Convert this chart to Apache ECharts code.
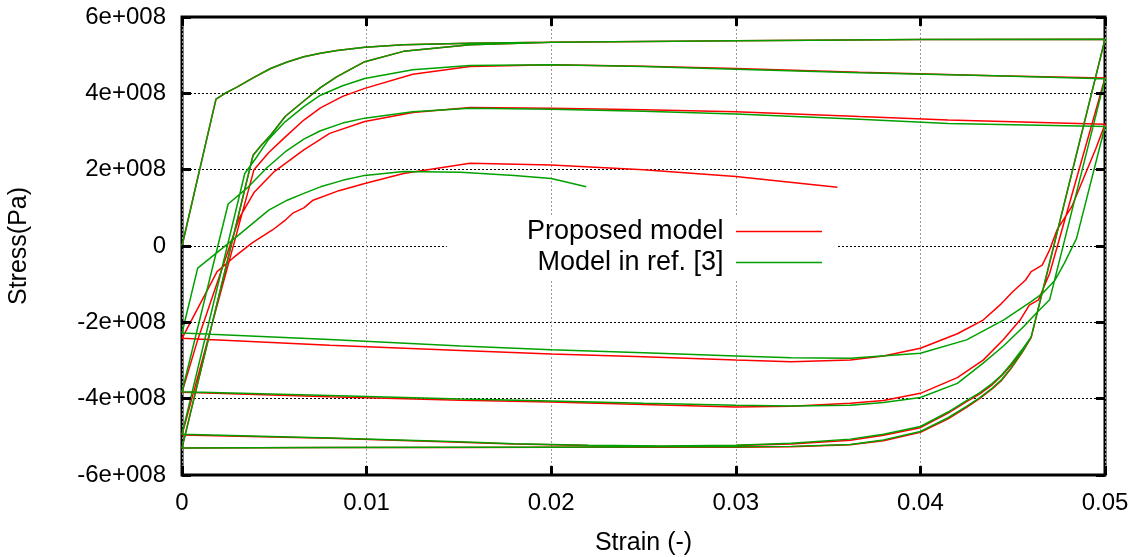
<!DOCTYPE html>
<html>
<head>
<meta charset="utf-8">
<script src="https://cdn.jsdelivr.net/npm/echarts@6/dist/echarts.min.js"></script>
<style>html,body{margin:0;padding:0;background:#fff}#c{width:1140px;height:557px}</style>
</head>
<body>
<div id="c"></div>
<script>
// Strain (-) and stress (in units of 1e8 Pa).
const STRESS_UNIT = 1e8;
const xTicks = [0, 0.01, 0.02, 0.03, 0.04, 0.05];
const yTicks = [-6e8, -4e8, -2e8, 0, 2e8, 4e8, 6e8];
const seriesNames = ['Proposed model', 'Model in ref. [3]'];

// ---- Model in ref. [3] (green) ----
const gLoad1 = [[0,0],[0.00184,3.85],[0.0024,4.02],[0.003,4.17],[0.0039,4.42],[0.0048,4.65],[0.0057,4.82],[0.0066,4.96],[0.0075,5.05],[0.0084,5.12],[0.0099,5.21],[0.012,5.27],[0.0156,5.31],[0.02,5.34],[0.03,5.38],[0.04,5.41],[0.05,5.42]];
const gUnload1 = [[0.05,5.42],[0.046,-2.38],[0.0455,-2.78],[0.0449,-3.2],[0.0444,-3.5],[0.0439,-3.72],[0.0432,-3.98],[0.0425,-4.2],[0.0415,-4.5],[0.040,-4.86],[0.038,-5.08],[0.0362,-5.2],[0.033,-5.25],[0.03,-5.26],[0.026,-5.26],[0.02,-5.27],[0.015,-5.27],[0.008,-5.28],[0,-5.29]];
const gReload2 = [[0,-5.29],[0.00385,2.38],[0.0043,2.64],[0.0048,2.9],[0.0056,3.4],[0.0066,3.8],[0.0075,4.15],[0.0084,4.44],[0.0099,4.83],[0.012,5.10],[0.0156,5.27],[0.02,5.34],[0.03,5.38],[0.04,5.41],[0.05,5.42]];
const gUnload2 = [[0.05,5.42],[0.046,-2.38],[0.0455,-2.72],[0.0449,-3.1],[0.0444,-3.38],[0.0439,-3.6],[0.0432,-3.85],[0.0425,-4.05],[0.0415,-4.35],[0.040,-4.73],[0.038,-4.93],[0.0362,-5.06],[0.033,-5.17],[0.03,-5.22],[0.026,-5.24],[0.022,-5.22],[0.018,-5.18],[0.015,-5.13],[0.008,-5.03],[0,-4.93]];
const gReload3 = [[0,-4.93],[0.0034,1.9],[0.004,2.3],[0.0047,2.8],[0.0056,3.26],[0.0066,3.65],[0.0075,3.95],[0.0087,4.2],[0.0099,4.39],[0.0125,4.62],[0.0156,4.73],[0.02,4.75],[0.025,4.7],[0.03,4.63],[0.0367,4.54],[0.044,4.46],[0.05,4.38]];
const gUnload3 = [[0.05,4.38],[0.047,-1.41],[0.0463,-1.75],[0.0456,-2.11],[0.0445,-2.62],[0.0434,-3.07],[0.042,-3.6],[0.040,-3.97],[0.038,-4.1],[0.0362,-4.17],[0.033,-4.19],[0.03,-4.17],[0.025,-4.12],[0.02,-4.06],[0.0151,-4.01],[0.008,-3.92],[0,-3.82]];
const gReload4 = [[0,-3.82],[0.0025,1.1],[0.0036,1.55],[0.0046,2.05],[0.0056,2.47],[0.0066,2.8],[0.0075,3.02],[0.0087,3.22],[0.0099,3.35],[0.0125,3.52],[0.0156,3.61],[0.02,3.58],[0.025,3.53],[0.03,3.46],[0.0367,3.32],[0.0415,3.21],[0.05,3.13]];
const gUnload4 = [[0.05,3.13],[0.04846,0.2],[0.0478,-0.45],[0.0473,-0.89],[0.0466,-1.25],[0.046,-1.46],[0.0445,-1.94],[0.0425,-2.46],[0.040,-2.81],[0.0362,-2.94],[0.033,-2.93],[0.03,-2.88],[0.025,-2.8],[0.02,-2.72],[0.0151,-2.62],[0.008,-2.45],[0,-2.28]];
const gReload5 = [[0,-2.28],[0.00085,-0.58],[0.0028,0.18],[0.0047,0.94],[0.0057,1.2],[0.0066,1.38],[0.0075,1.55],[0.0087,1.72],[0.0099,1.85],[0.012,1.95],[0.0151,1.93],[0.018,1.85],[0.02,1.77],[0.0219,1.55]];

// ---- Proposed model (red) ----
const rLoad1 = [[0,0],[0.00184,3.85],[0.0024,4.02],[0.003,4.17],[0.0039,4.42],[0.0048,4.65],[0.0057,4.82],[0.0066,4.96],[0.0075,5.05],[0.0084,5.12],[0.0099,5.21],[0.012,5.27],[0.0156,5.31],[0.02,5.34],[0.03,5.38],[0.04,5.41],[0.05,5.42]];
const rUnload1 = [[0.05,5.42],[0.046,-2.4],[0.0455,-2.8],[0.0449,-3.22],[0.0444,-3.52],[0.0439,-3.74],[0.0432,-4.0],[0.0425,-4.23],[0.0415,-4.53],[0.040,-4.88],[0.038,-5.1],[0.0362,-5.21],[0.033,-5.26],[0.03,-5.27],[0.026,-5.27],[0.02,-5.27],[0.015,-5.28],[0.008,-5.28],[0,-5.29]];
const rReload2 = [[0,-5.29],[0.00385,2.38],[0.0043,2.64],[0.0048,2.9],[0.0056,3.4],[0.0066,3.8],[0.0075,4.15],[0.0084,4.44],[0.0099,4.83],[0.012,5.10],[0.0156,5.27],[0.02,5.34],[0.03,5.38],[0.04,5.41],[0.05,5.42]];
const rUnload2 = [[0.05,5.42],[0.046,-2.4],[0.0455,-2.75],[0.0449,-3.13],[0.0444,-3.4],[0.0439,-3.63],[0.0432,-3.88],[0.0425,-4.08],[0.0415,-4.38],[0.040,-4.76],[0.038,-4.96],[0.0362,-5.09],[0.033,-5.19],[0.03,-5.23],[0.026,-5.25],[0.022,-5.23],[0.018,-5.19],[0.015,-5.14],[0.008,-5.04],[0,-4.95]];
const rReload3 = [[0,-4.95],[0.0039,2.0],[0.0047,2.45],[0.0056,2.86],[0.0066,3.30],[0.0075,3.62],[0.0087,3.92],[0.0099,4.13],[0.0125,4.5],[0.0156,4.70],[0.02,4.75],[0.025,4.71],[0.03,4.65],[0.0367,4.55],[0.044,4.46],[0.05,4.40]];
const rUnload3 = [[0.05,4.40],[0.047,-0.72],[0.0464,-1.41],[0.0459,-1.55],[0.0454,-1.94],[0.0445,-2.45],[0.0434,-2.99],[0.042,-3.45],[0.040,-3.86],[0.038,-4.05],[0.0362,-4.12],[0.033,-4.2],[0.03,-4.22],[0.025,-4.15],[0.02,-4.09],[0.0151,-4.04],[0.008,-3.95],[0,-3.83]];
const rReload4 = [[0,-3.83],[0.00085,-2.46],[0.0031,0.73],[0.0039,1.4],[0.005,1.95],[0.0066,2.52],[0.008,2.95],[0.0099,3.26],[0.0125,3.5],[0.0156,3.63],[0.02,3.61],[0.025,3.57],[0.03,3.52],[0.0367,3.39],[0.0415,3.30],[0.05,3.19]];
const rUnload4 = [[0.05,3.19],[0.0495,2.55],[0.0482,1.03],[0.0474,0.42],[0.047,-0.1],[0.0466,-0.5],[0.046,-0.67],[0.0457,-0.89],[0.045,-1.2],[0.0443,-1.55],[0.0434,-1.94],[0.042,-2.3],[0.040,-2.68],[0.038,-2.88],[0.0362,-2.99],[0.033,-3.03],[0.03,-2.99],[0.025,-2.9],[0.02,-2.83],[0.0151,-2.74],[0.008,-2.6],[0,-2.42]];
const rReload5 = [[0,-2.42],[0.0019,-0.67],[0.0028,-0.3],[0.0038,0.08],[0.0049,0.42],[0.0056,0.68],[0.006,0.86],[0.0066,1.0],[0.0071,1.2],[0.0085,1.45],[0.0099,1.64],[0.012,1.9],[0.0156,2.17],[0.02,2.12],[0.025,2.0],[0.03,1.82],[0.0355,1.54]];

const redPath = [rLoad1, rUnload1, rReload2, rUnload2, rReload3, rUnload3, rReload4, rUnload4, rReload5];
const greenPath = [gLoad1, gUnload1, gReload2, gUnload2, gReload3, gUnload3, gReload4, gUnload4, gReload5];
const toData = branches => branches.flat().map(p => [p[0], p[1] * STRESS_UNIT]);

const FONT = 'Liberation Sans, Arial, sans-serif';
const chart = echarts.init(document.getElementById('c'), null, {renderer: 'canvas'});
const TICK_LEN = 9;
// Tick-only axes, shifted inward by the tick length so outward ticks end on the frame.
const tickAxis = () => ({
  offset: -TICK_LEN,
  axisLine: {show: false, onZero: false},
  axisTick: {show: true, inside: false, length: TICK_LEN, lineStyle: {color: '#000', width: 3}},
  axisLabel: {show: false}, splitLine: {show: false}, z: 5
});
chart.setOption({
  animation: false,
  backgroundColor: '#fff',
  grid: {left: 182, right: 35, top: 17, bottom: 82, outerBoundsMode: 'none', containLabel: false,
         show: true, borderColor: '#000', borderWidth: 3, backgroundColor: 'transparent'},
  legend: {
    orient: 'vertical', right: 302, top: 216, align: 'right',
    padding: [2, 16, 3, 80], backgroundColor: '#fff',
    icon: 'rect', itemWidth: 86, itemHeight: 1.5, itemGap: 4,
    data: seriesNames,
    formatter: n => n + ' ',
    textStyle: {fontFamily: FONT, fontSize: 27, color: '#000'}
  },
  xAxis: [{
    type: 'value', position: 'bottom', min: xTicks[0], max: xTicks[xTicks.length-1], interval: 0.01,
    name: 'Strain (-)', nameLocation: 'middle', nameGap: 56,
    nameTextStyle: {fontFamily: FONT, fontSize: 25, color: '#000'},
    axisLine: {show: false, onZero: false},
    axisTick: {show: true, inside: true, length: TICK_LEN, lineStyle: {color: '#000', width: 3}},
    axisLabel: {fontFamily: FONT, fontSize: 24, color: '#000', margin: 16, formatter: v => v === 0 ? '0' : v.toFixed(2)},
    splitLine: {show: true, lineStyle: {color: '#999', type: [2, 2], width: 1}}
  }, Object.assign({type: 'value', position: 'top', min: xTicks[0], max: xTicks[xTicks.length-1], interval: 0.01}, tickAxis()),
     Object.assign({type: 'value', position: 'bottom', min: xTicks[0], max: xTicks[xTicks.length-1], interval: 0.01}, tickAxis())],
  yAxis: [{
    type: 'value', position: 'left', min: yTicks[0], max: yTicks[yTicks.length-1], interval: 2e8,
    name: 'Stress(Pa)', nameLocation: 'middle', nameGap: 150,
    nameTextStyle: {fontFamily: FONT, fontSize: 25, color: '#000'},
    axisLine: {show: false, onZero: false},
    axisTick: {show: true, inside: true, length: TICK_LEN, lineStyle: {color: '#000', width: 3}},
    axisLabel: {fontFamily: FONT, fontSize: 24, color: '#000', margin: 16, formatter: v => v === 0 ? '0' : (v / 1e8) + 'e+008'},
    splitLine: {show: true, lineStyle: {color: '#000', type: [2, 2], width: 1}}
  }, Object.assign({type: 'value', position: 'right', min: yTicks[0], max: yTicks[yTicks.length-1], interval: 2e8}, tickAxis()),
     Object.assign({type: 'value', position: 'left', min: yTicks[0], max: yTicks[yTicks.length-1], interval: 2e8}, tickAxis())],
  series: [
    {name: seriesNames[0], type: 'line', data: toData(redPath), symbol: 'none', lineStyle: {color: '#ff0000', width: 1.5}, itemStyle: {color: '#ff0000'}, z: 2},
    {name: seriesNames[1], type: 'line', data: toData(greenPath), symbol: 'none', lineStyle: {color: '#00a000', width: 1.5}, itemStyle: {color: '#00a000'}, z: 3}
  ]
});
</script>
</body>
</html>
